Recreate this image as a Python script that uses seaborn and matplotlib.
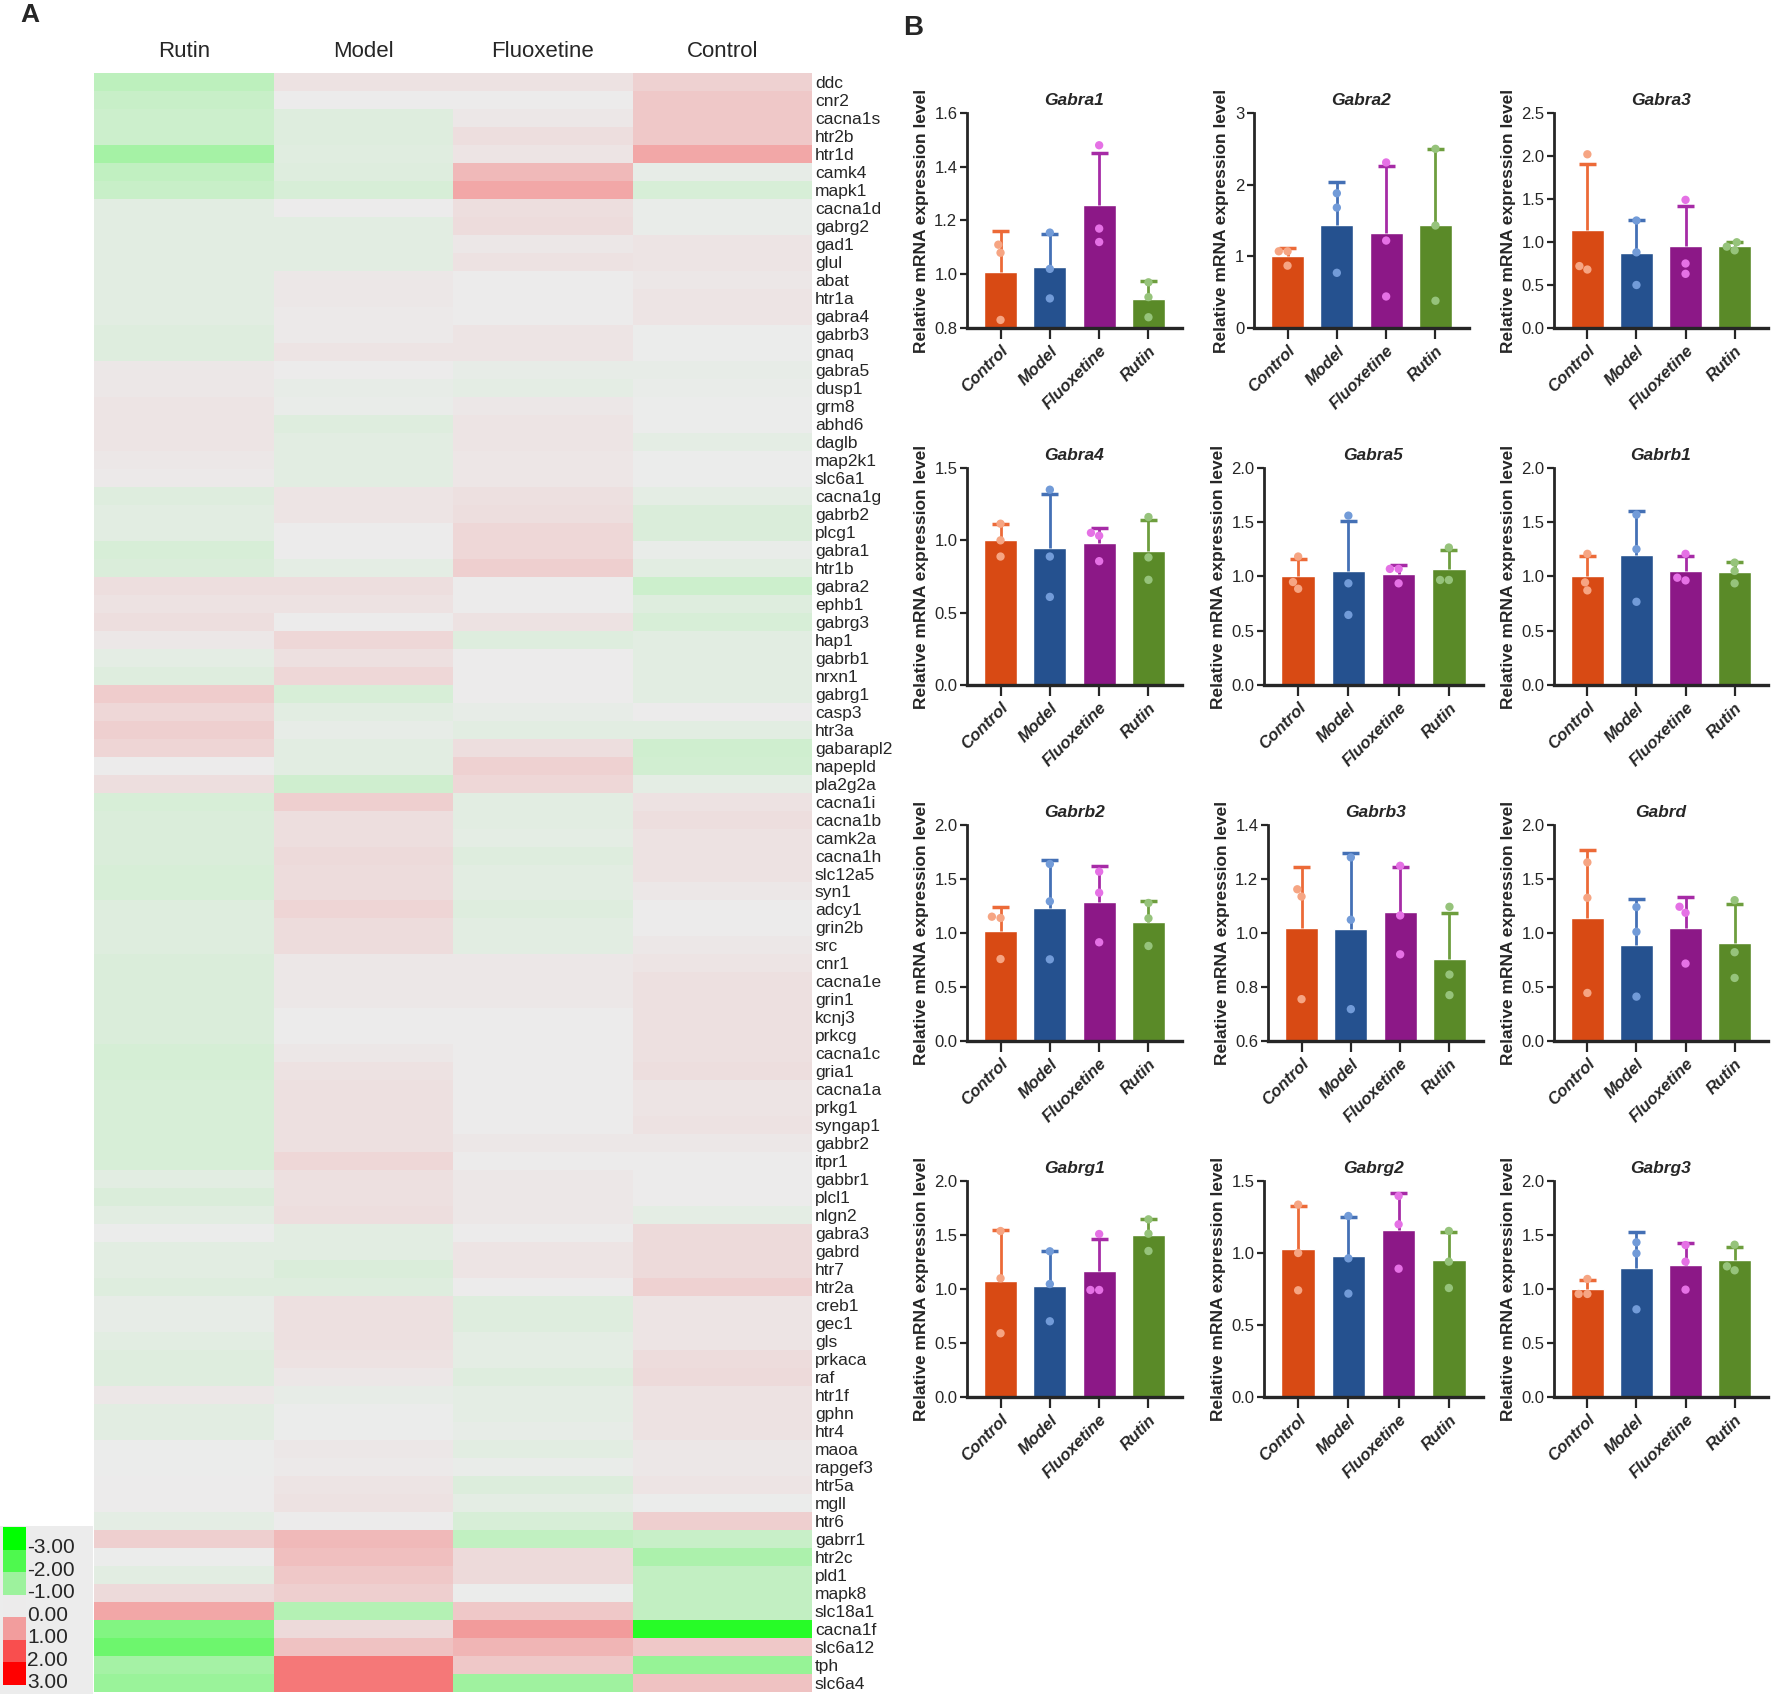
import numpy as np
import pandas as pd
import seaborn as sns
import matplotlib.pyplot as plt
from matplotlib.colors import LinearSegmentedColormap

# ---------------- Panel A: heatmap data ----------------
genes = ["ddc", "cnr2", "cacna1s", "htr2b", "htr1d", "camk4", "mapk1", "cacna1d", "gabrg2", "gad1",
         "glul", "abat", "htr1a", "gabra4", "gabrb3", "gnaq", "gabra5", "dusp1", "grm8", "abhd6",
         "daglb", "map2k1", "slc6a1", "cacna1g", "gabrb2", "plcg1", "gabra1", "htr1b", "gabra2", "ephb1",
         "gabrg3", "hap1", "gabrb1", "nrxn1", "gabrg1", "casp3", "htr3a", "gabarapl2", "napepld", "pla2g2a",
         "cacna1i", "cacna1b", "camk2a", "cacna1h", "slc12a5", "syn1", "adcy1", "grin2b", "src", "cnr1",
         "cacna1e", "grin1", "kcnj3", "prkcg", "cacna1c", "gria1", "cacna1a", "prkg1", "syngap1", "gabbr2",
         "itpr1", "gabbr1", "plcl1", "nlgn2", "gabra3", "gabrd", "htr7", "htr2a", "creb1", "gec1",
         "gls", "prkaca", "raf", "htr1f", "gphn", "htr4", "maoa", "rapgef3", "htr5a", "mgll",
         "htr6", "gabrr1", "htr2c", "pld1", "mapk8", "slc18a1", "cacna1f", "slc6a12", "tph", "slc6a4"]

rutin = [-0.6, -0.45, -0.4, -0.4, -0.9, -0.55, -0.45, -0.14, -0.14, -0.14,
         -0.14, -0.14, -0.12, -0.12, -0.18, -0.18, 0.07, 0.07, 0.1, 0.1,
         0.1, 0.05, 0.03, -0.18, -0.14, -0.14, -0.27, -0.22, 0.18, 0.13,
         0.18, 0.05, -0.1, -0.18, 0.4, 0.27, 0.36, 0.3, 0.02, 0.18,
         -0.27, -0.22, -0.22, -0.22, -0.27, -0.27, -0.18, -0.18, -0.18, -0.22,
         -0.22, -0.22, -0.22, -0.22, -0.3, -0.3, -0.28, -0.27, -0.27, -0.27,
         -0.27, -0.14, -0.22, -0.14, -0.02, -0.14, -0.14, -0.18, -0.07, -0.07,
         -0.12, -0.18, -0.18, 0.05, -0.12, -0.12, -0.02, -0.01, 0.02, 0.02,
         -0.1, 0.36, -0.02, -0.14, 0.22, 0.87, -1.35, -1.6, -0.9, -1.05]

model = [0.14, 0.0, -0.18, -0.18, -0.15, -0.18, -0.27, 0.0, -0.14, -0.14,
         -0.14, 0.07, 0.05, 0.03, 0.04, 0.1, 0.02, -0.06, -0.04, -0.18,
         -0.12, -0.12, -0.12, 0.1, 0.1, 0.02, 0.02, -0.1, 0.18, 0.13,
         0.0, 0.27, 0.15, 0.27, -0.27, -0.14, -0.07, -0.14, -0.14, -0.36,
         0.36, 0.18, 0.18, 0.22, 0.2, 0.2, 0.3, 0.2, 0.2, 0.05,
         0.05, 0.05, 0.02, 0.02, 0.07, 0.12, 0.15, 0.15, 0.15, 0.15,
         0.27, 0.15, 0.15, 0.18, -0.14, -0.14, -0.22, -0.18, 0.15, 0.15,
         0.15, 0.12, 0.05, -0.07, -0.02, -0.02, 0.07, 0.04, 0.1, 0.12,
         0.02, 0.65, 0.58, 0.45, 0.36, -0.72, 0.22, 0.52, 1.47, 1.47]

fluoxetine = [0.14, 0.0, 0.07, 0.18, 0.1, 0.65, 0.87, 0.18, 0.2, 0.05,
              0.12, 0.0, 0.0, 0.0, 0.1, 0.1, -0.06, -0.1, 0.06, 0.1,
              0.1, 0.08, 0.08, 0.15, 0.17, 0.27, 0.27, 0.36, 0.0, 0.0,
              0.12, -0.18, 0.02, 0.02, 0.02, -0.07, -0.14, 0.18, 0.33, 0.27,
              -0.14, -0.14, -0.1, -0.18, -0.12, -0.12, -0.18, -0.14, -0.14, 0.05,
              0.07, 0.07, 0.0, 0.0, 0.0, 0.0, 0.0, 0.0, 0.0, 0.05,
              0.02, 0.07, 0.07, 0.07, 0.02, 0.1, 0.1, 0.02, -0.18, -0.18,
              -0.1, -0.1, -0.18, -0.1, -0.1, -0.05, -0.12, -0.04, -0.2, -0.1,
              -0.27, -0.56, 0.22, 0.22, -0.02, 0.45, 1.03, 0.7, 0.45, -0.98]

control = [0.33, 0.45, 0.45, 0.45, 0.87, -0.05, -0.27, -0.04, -0.03, 0.1,
           0.1, 0.07, 0.1, 0.1, -0.02, -0.02, -0.06, -0.04, -0.02, -0.02,
           -0.1, -0.02, -0.02, -0.1, -0.23, -0.23, -0.04, -0.14, -0.4, -0.18,
           -0.27, -0.14, -0.14, -0.14, -0.14, 0.0, -0.14, -0.36, -0.33, -0.1,
           0.12, 0.18, 0.13, 0.13, 0.13, 0.07, 0.02, 0.02, 0.05, 0.1,
           0.15, 0.15, 0.15, 0.15, 0.15, 0.18, 0.1, 0.1, 0.12, 0.05,
           0.02, 0.02, 0.02, -0.1, 0.22, 0.22, 0.22, 0.35, 0.1, 0.1,
           0.1, 0.2, 0.22, 0.12, 0.12, 0.12, 0.07, 0.07, 0.1, -0.01,
           0.36, -0.45, -0.8, -0.52, -0.52, -0.52, -2.5, 0.45, -1.1, 0.52]

heat_cols = ["Rutin", "Model", "Fluoxetine", "Control"]
legend_vals = [-3, -2, -1, 0, 1, 2, 3]

# ---------------- Panel B: qPCR replicate values ----------------
groups = ["Control", "Model", "Fluoxetine", "Rutin"]
panel_genes = ["Gabra1", "Gabra2", "Gabra3", "Gabra4", "Gabra5", "Gabrb1",
               "Gabrb2", "Gabrb3", "Gabrd", "Gabrg1", "Gabrg2", "Gabrg3"]

gabra1 = [[1.11, 1.08, 0.83], [1.155, 1.02, 0.91], [1.48, 1.17, 1.12], [0.97, 0.915, 0.84]]
gabra2 = [[1.07, 1.07, 0.87], [1.88, 1.68, 0.77], [2.31, 1.22, 0.44], [2.50, 1.43, 0.38]]
gabra3 = [[2.02, 0.68, 0.72], [1.25, 0.88, 0.50], [1.49, 0.75, 0.63], [0.997, 0.903, 0.946]]
gabra4 = [[1.115, 1.0, 0.888], [1.35, 0.888, 0.609], [1.052, 1.032, 0.856], [1.161, 0.882, 0.727]]
gabra5 = [[1.184, 0.887, 0.949], [1.561, 0.937, 0.646], [1.07, 1.07, 0.937], [1.267, 0.968, 0.968]]
gabrb1 = [[1.209, 0.946, 0.872], [1.57, 1.252, 0.767], [1.209, 0.964, 0.989], [1.128, 1.051, 0.937]]
gabrb2 = [[1.151, 1.139, 0.759], [1.639, 1.293, 0.756], [1.568, 1.373, 0.914], [1.278, 1.136, 0.88]]
gabrb3 = [[1.162, 1.135, 0.755], [1.28, 1.049, 0.718], [1.249, 1.065, 0.921], [1.097, 0.846, 0.77]]
gabrd = [[1.654, 1.326, 0.445], [1.24, 1.011, 0.411], [1.243, 1.187, 0.717], [1.304, 0.822, 0.584]]
gabrg1 = [[1.537, 1.099, 0.59], [1.349, 1.046, 0.701], [1.509, 0.991, 0.991], [1.645, 1.512, 1.352]]
gabrg2 = [[1.336, 1.0, 0.741], [1.257, 0.963, 0.718], [1.396, 1.199, 0.891], [1.153, 0.94, 0.757]]
gabrg3 = [[1.093, 0.954, 0.954], [1.432, 1.33, 0.812], [1.407, 1.253, 0.994], [1.41, 1.173, 1.21]]

y_ranges = {"Gabra1": (0.8, 1.6, 0.2), "Gabra2": (0, 3, 1), "Gabra3": (0, 2.5, 0.5),
            "Gabra4": (0, 1.5, 0.5), "Gabra5": (0, 2.0, 0.5), "Gabrb1": (0, 2.0, 0.5),
            "Gabrb2": (0, 2.0, 0.5), "Gabrb3": (0.6, 1.4, 0.2), "Gabrd": (0, 2.0, 0.5),
            "Gabrg1": (0, 2.0, 0.5), "Gabrg2": (0, 1.5, 0.5), "Gabrg3": (0, 2.0, 0.5)}

bar_colors = ["#D84A14", "#25518F", "#8C1887", "#5A8A28"]
err_colors = ["#EC6A38", "#4470B5", "#A62BA6", "#6E9E3E"]
pt_colors = ["#F6A583", "#729BD8", "#E571E5", "#96C37B"]

# ---------------- figure ----------------
sns.set_style("white")
plt.rcParams['font.family'] = ['Liberation Sans', 'DejaVu Sans']

W, H = 1772, 1694
fig = plt.figure(figsize=(W / 100, H / 100), dpi=100)


def rect(l, t, r, b):
    return [l / W, 1 - b / H, (r - l) / W, (b - t) / H]


cmap = LinearSegmentedColormap.from_list("gr", [(0, "#00ff00"), (0.5, "#ececec"), (1, "#ff0000")])

heat_df = pd.DataFrame({"Rutin": rutin, "Model": model, "Fluoxetine": fluoxetine, "Control": control},
                       index=genes)[heat_cols]

ax = fig.add_axes(rect(94, 73, 812, 1692))
sns.heatmap(heat_df, cmap=cmap, vmin=-3, vmax=3, cbar=False, ax=ax,
            xticklabels=heat_cols, yticklabels=genes)
ax.xaxis.tick_top()
ax.yaxis.tick_right()
ax.tick_params(axis="x", length=0, pad=8, labelsize=16)
ax.tick_params(axis="y", length=0, pad=2, labelsize=12.5)
plt.setp(ax.get_yticklabels(), rotation=0, ha="left")
plt.setp(ax.get_xticklabels(), rotation=0)

# colour key
bg = fig.add_axes(rect(0, 1526, 93, 1694))
bg.set_facecolor("#ececec")
bg.set_xticks([])
bg.set_yticks([])
for s in bg.spines.values():
    s.set_visible(False)

lax = fig.add_axes(rect(3, 1527, 26, 1685))
sns.heatmap(pd.DataFrame({"v": legend_vals}), cmap=cmap, vmin=-3, vmax=3, cbar=False, ax=lax,
            xticklabels=False, yticklabels=False)
lax.yaxis.tick_right()
lax.set_yticks(np.arange(len(legend_vals)) + 0.82)
lax.set_yticklabels([f"{v:.2f}" for v in legend_vals])
lax.tick_params(axis="y", length=0, pad=1, labelsize=15)
lax.set_ylabel("")

fig.text(30 / W, 1 - 15 / H, "A", fontsize=19, fontweight="bold", ha="center", va="center")
fig.text(913 / W, 1 - 28 / H, "B", fontsize=20, fontweight="bold", ha="center", va="center")

# ---------------- bar panels ----------------
panel_points = {"Gabra1": gabra1, "Gabra2": gabra2, "Gabra3": gabra3, "Gabra4": gabra4,
                "Gabra5": gabra5, "Gabrb1": gabrb1, "Gabrb2": gabrb2, "Gabrb3": gabrb3,
                "Gabrd": gabrd, "Gabrg1": gabrg1, "Gabrg2": gabrg2, "Gabrg3": gabrg3}

rows = [(113, 328), (468, 685), (825, 1041), (1181, 1397)]
cols = [[(967, 1182), (1254, 1469), (1554, 1768)],
        [(967, 1182), (1264, 1483), (1554, 1768)],
        [(967, 1182), (1268, 1483), (1554, 1768)],
        [(967, 1182), (1264, 1483), (1554, 1768)]]

for k, gene in enumerate(panel_genes):
    r, c = divmod(k, 3)
    top, bot = rows[r]
    left, right = cols[r][c]
    bax = fig.add_axes(rect(left, top, right, bot))

    recs = []
    for g, vals in zip(groups, panel_points[gene]):
        for v in vals:
            recs.append({"group": g, "value": v})
    sub = pd.DataFrame(recs)

    sns.barplot(data=sub, x="group", y="value", hue="group", order=groups, hue_order=groups,
                palette=bar_colors, saturation=1, errorbar=None, width=0.67, legend=False,
                ax=bax, zorder=2)
    stats = sub.groupby("group")["value"].agg(["mean", "std"]).reindex(groups)
    for i, g in enumerate(groups):
        m, sd = stats.loc[g, "mean"], stats.loc[g, "std"]
        bax.vlines(i, m, m + sd, color=err_colors[i], lw=2, zorder=3)
        bax.hlines(m + sd, i - 0.17, i + 0.17, color=err_colors[i], lw=2.5, zorder=3)

    lo, hi, step = y_ranges[gene]
    bax.set_xlim(-0.68, 3.68)
    bax.set_ylim(lo, hi)
    sns.swarmplot(data=sub, x="group", y="value", hue="group", order=groups, hue_order=groups,
                  palette=pt_colors, size=6, legend=False, ax=bax, zorder=4)
    bax.set_xlim(-0.68, 3.68)
    bax.set_ylim(lo, hi)

    ticks = np.arange(lo, hi + step / 2, step)
    bax.set_yticks(ticks)
    if step >= 1:
        bax.set_yticklabels([f"{t:.0f}" for t in ticks])
    else:
        bax.set_yticklabels([f"{t:.1f}" for t in ticks])

    sns.despine(ax=bax)
    bax.spines["left"].set_linewidth(2)
    bax.spines["bottom"].set_linewidth(2.4)
    bax.tick_params(axis="y", length=5, width=1.6, pad=2, labelsize=12, direction="out", left=True)
    bax.tick_params(axis="x", length=8, width=1.6, pad=3, direction="out", bottom=True)
    bax.set_xticks(range(4))
    bax.set_xticklabels(groups, rotation=45, ha="right", va="top", rotation_mode="anchor",
                        fontsize=12, fontweight="bold", fontstyle="italic")
    bax.set_xlabel("")
    bax.set_ylabel("Relative mRNA expression level", fontsize=12.5, fontweight="bold", labelpad=4)
    bax.set_title(gene, fontsize=12.5, fontweight="bold", fontstyle="italic", pad=6)

fig.savefig("out.png", dpi=100)
